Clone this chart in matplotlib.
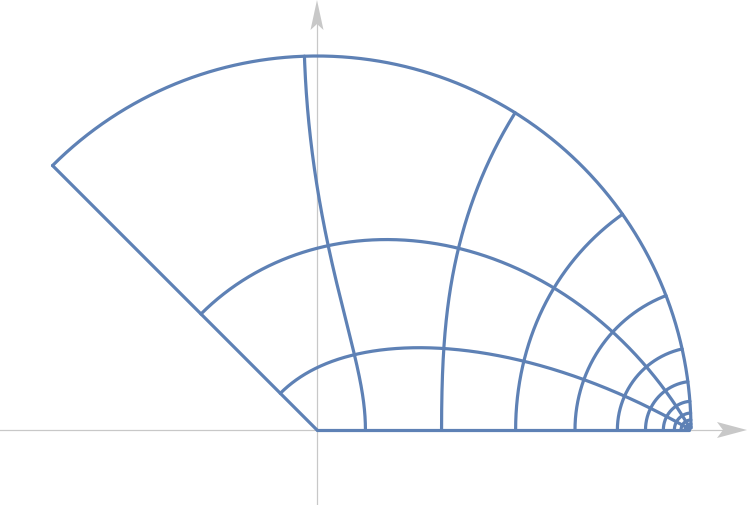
import numpy as np
import matplotlib
matplotlib.use("Agg")
import matplotlib.pyplot as plt

# domain of the map w = tanh(z)^(3/2), z = u + i v
u_range = [0.0, np.pi]
v_range = [0.0, np.pi / 4]

# mesh line positions (steps of pi/12)
u_mesh = [np.pi / 12, np.pi / 6, np.pi / 4, np.pi / 3, 5 * np.pi / 12, np.pi / 2,
          7 * np.pi / 12, 2 * np.pi / 3, 3 * np.pi / 4, 5 * np.pi / 6, 11 * np.pi / 12]
v_mesh = [np.pi / 12, np.pi / 6]

power = 1.5

BLUE = "#5e81b5"
GRAY = "#c8c8c8"

PX = 1 / 374  # one pixel in data units
XMIN, XMAX = -317 * PX, 430 * PX
YMIN, YMAX = -75 * PX, 430 * PX


def f(z):
    return np.tanh(z) ** power


fig = plt.figure(figsize=(7.47, 5.05), dpi=100)
ax = fig.add_axes([0, 0, 1, 1])
ax.set_xlim(XMIN, XMAX)
ax.set_ylim(YMIN, YMAX)
ax.axis("off")

# axes lines with notched arrowheads
L, W, N = 30 * PX, 8 * PX, 24 * PX
ax.plot([XMIN, XMAX - N], [0, 0], color=GRAY, lw=0.9, zorder=1)
ax.plot([0, 0], [YMIN, YMAX - N], color=GRAY, lw=0.9, zorder=1)
ax.fill([XMAX, XMAX - L, XMAX - N, XMAX - L], [0, W, 0, -W], color=GRAY, lw=0, zorder=1)
ax.fill([0, -6.5 * PX, 0, 6.5 * PX], [YMAX, YMAX - L, YMAX - N, YMAX - L], color=GRAY, lw=0, zorder=1)

style = dict(color=BLUE, lw=2.3, solid_capstyle="round", solid_joinstyle="round", zorder=3)

vv = np.linspace(v_range[0], v_range[1], 400)
uu = np.concatenate([np.linspace(0, 0.5, 300), np.linspace(0.5, u_range[1], 700)[1:]])

# lines of constant u (incl. boundaries)
for u in [u_range[0]] + u_mesh + [u_range[1]]:
    w = f(u + 1j * vv)
    ax.plot(w.real, w.imag, **style)

# lines of constant v (incl. boundaries)
for v in [v_range[0]] + v_mesh + [v_range[1]]:
    w = f(uu + 1j * v)
    ax.plot(w.real, w.imag, **style)

fig.savefig("out.png", dpi=100)
